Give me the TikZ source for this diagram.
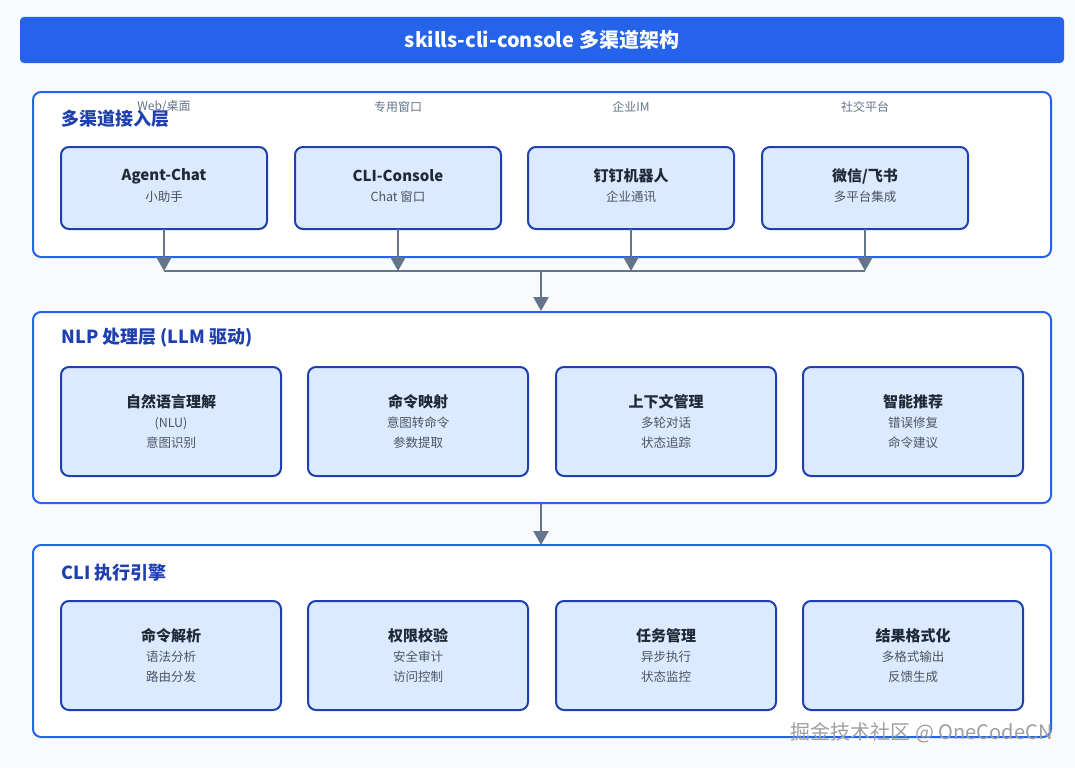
\documentclass[tikz,border=0pt]{standalone}
\usepackage{fontspec}
\setmainfont{Noto Sans CJK SC}
\usetikzlibrary{arrows.meta}
\definecolor{tb}{HTML}{2563EB}
\definecolor{db}{HTML}{1E40AF}
\definecolor{lb}{HTML}{DBEAFE}
\definecolor{gr}{HTML}{64748B}
\definecolor{tx}{HTML}{1F2937}
\definecolor{st}{HTML}{4B5563}
\definecolor{bg}{HTML}{F8FAFC}
\tikzset{x=1pt,y=-1pt,
 layer/.style={draw=tb,line width=2pt,fill=white,rounded corners=8pt},
 box/.style={draw=db,line width=2pt,fill=lb,rounded corners=8pt},
 ttl/.style={font=\bfseries\fontsize{15}{17}\selectfont,text=tx},
 sub/.style={font=\fontsize{12.5}{20}\selectfont,text=st,align=center},
 lay/.style={font=\bfseries\fontsize{18}{20}\selectfont,text=db,anchor=west},
 chan/.style={font=\itshape\fontsize{12}{14}\selectfont,text=gr},
 conn/.style={draw=gr,line width=2.5pt},
 arr/.style={conn,-{Triangle[length=14pt,width=15pt]}}}
\begin{document}
\begin{tikzpicture}
\useasboundingbox (0,0) rectangle (1075,768);
\fill[bg] (0,0) rectangle (1075,768);
\draw[fill=tb,draw=none,rounded corners=4pt] (20,17) rectangle (1064,63);
\node[font=\bfseries\fontsize{20}{22}\selectfont,text=white] (title) at (542,40) {skills-cli-console 多渠道架构};
% layer 1
\draw[layer] (33,92) rectangle (1051,257);
\node[lay] (l1) at (58,119) {多渠道接入层};
\foreach \x/\c/\t/\s/\n in {164/{Web/桌面}/Agent-Chat/小助手/a, 398/专用窗口/CLI-Console/Chat 窗口/b, 631/企业IM/钉钉机器人/企业通讯/c, 865/社交平台/{微信/飞书}/多平台集成/d}{
 \node[chan] (ch\n) at (\x,107) {\c};
 \draw[box] (\x-103,147) rectangle (\x+103,229);
 \node[ttl] (t\n) at (\x,176) {\t};
 \node[sub] (s\n) at (\x,197) {\s};
 \coordinate (bb\n) at (\x,229);
 \coordinate (j\n) at (\x,271);
 \draw[arr] (bb\n) -- (j\n);
}
\draw[conn] (ja) -- (jd);
\coordinate (m1) at (541,270);
\coordinate (m2) at (541,311);
\draw[arr] (m1) -- (m2);
% layer 2
\draw[layer] (33,312) rectangle (1051,503);
\node[lay] (l2) at (58,338) {NLP 处理层 (LLM 驱动)};
\foreach \x/\t/\s/\n in {171/自然语言理解/(NLU)\\意图识别/a, 418/命令映射/意图转命令\\参数提取/b, 666/上下文管理/多轮对话\\状态追踪/c, 913/智能推荐/错误修复\\命令建议/d}{
 \draw[box] (\x-110,367) rectangle (\x+110,476);
 \node[ttl] (u\n) at (\x,402) {\t};
 \node[sub] (v\n) at (\x,433) {\s};
}
\coordinate (m3) at (541,503);
\coordinate (m4) at (541,545);
\draw[arr] (m3) -- (m4);
% layer 3
\draw[layer] (33,545) rectangle (1051,737);
\node[lay] (l3) at (58,573) {CLI 执行引擎};
\foreach \x/\t/\s/\n in {171/命令解析/语法分析\\路由分发/a, 418/权限校验/安全审计\\访问控制/b, 666/任务管理/异步执行\\状态监控/c, 913/结果格式化/多格式输出\\反馈生成/d}{
 \draw[box] (\x-110,601) rectangle (\x+110,710);
 \node[ttl] (w\n) at (\x,636) {\t};
 \node[sub] (z\n) at (\x,667) {\s};
}
\node[font=\fontsize{20}{22}\selectfont,text=gray!75,anchor=east] (wm) at (1056,733) {掘金技术社区 @ OneCodeCN};
\end{tikzpicture}
\end{document}
